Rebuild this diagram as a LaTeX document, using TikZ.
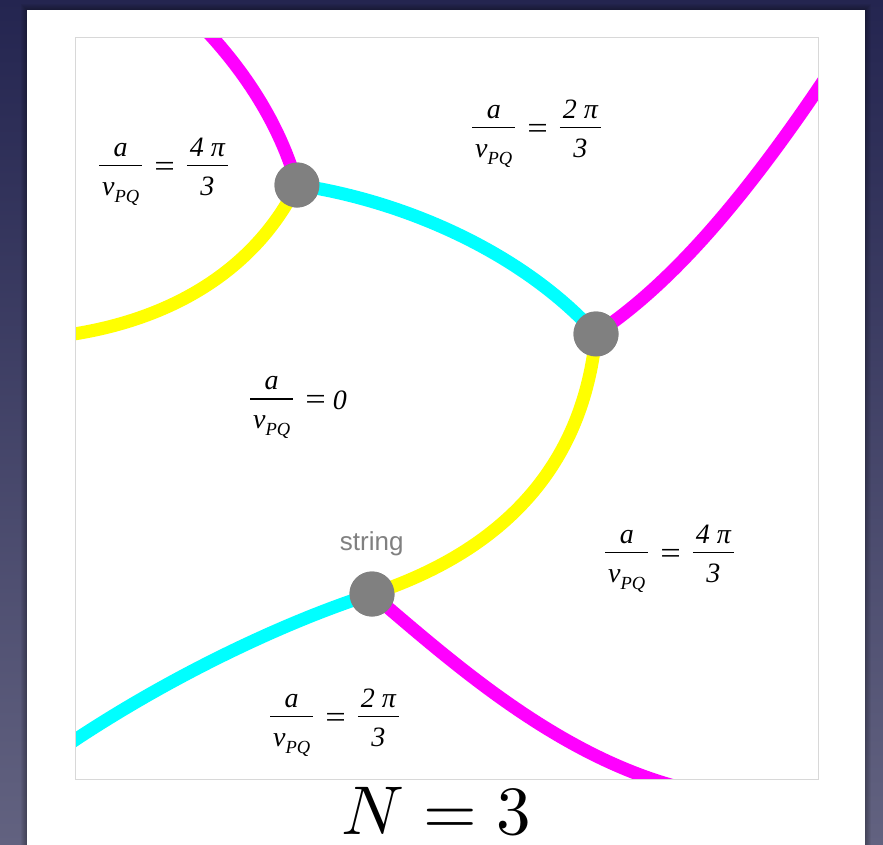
\documentclass[tikz,border=0pt]{standalone}
\usepackage{graphicx}
\usepackage[no-math]{fontspec}
\setmainfont{Liberation Serif}
\newfontfamily\lsans{Liberation Sans}
\definecolor{bgtop}{RGB}{36,37,80}
\definecolor{bgbot}{RGB}{98,98,128}
\definecolor{mag}{RGB}{255,0,255}
\definecolor{cya}{RGB}{0,255,255}
\definecolor{yel}{RGB}{255,255,0}
\definecolor{dotgray}{RGB}{128,128,128}
\definecolor{boxgray}{RGB}{216,216,216}
\newcommand\fb[2]{%
  \setbox0\hbox{#1}\setbox2\hbox{#2}%
  \dimen0=\wd0 \ifdim\wd2>\dimen0 \dimen0=\wd2 \fi
  \advance\dimen0 by 6pt
  \rlap{\raise20pt\hbox to\dimen0{\hss\box0\hss}}%
  \rlap{\lower19pt\hbox to\dimen0{\hss\box2\hss}}%
  \rlap{\raise9.6pt\hbox{\vrule width\dimen0 height1.5pt depth0pt}}%
  \hskip\dimen0\relax}
\newcommand\vpq{v\raisebox{-7pt}{\fontsize{18.5}{18}\selectfont PQ}}
\newcommand\lblfont{\fontsize{28}{30}\selectfont\itshape}
\newcommand\eqg{{\upshape\scalebox{1.3}[1.1]{=}}}
\newcommand\eqsign{\hspace{12pt}\eqg\hspace{12pt}}
\tikzset{
  curve/.style={line width=13pt},
  dot/.style={circle, fill=dotgray, minimum size=45pt, inner sep=0pt},
  lbl/.style={anchor=base west, inner sep=0pt, font=\lblfont},
}
\begin{document}
\begin{tikzpicture}[x=1pt,y=-1pt]
\useasboundingbox (0,0) rectangle (883,844);
\shade[top color=bgtop, bottom color=bgbot] (0,0) rectangle (883,844);
\foreach \k in {1,...,6}
  \fill[black, opacity=0.05] (27-\k,10-\k) rectangle (865+\k,850);
\fill[white] (27,10) rectangle (865,850);

\node[dot] (d1) at (297,185) {};
\node[dot] (d2) at (596,334) {};
\node[dot] (d3) at (372,594) {};
\coordinate (mtop) at (198,22);
\coordinate (mright) at (836,62);
\coordinate (yleft) at (60,336);
\coordinate (cleft) at (60,750);
\coordinate (mbot) at (690,790);

\begin{scope}
\clip (75,37) rectangle (818,779);
\draw[curve, mag] (d1.center) .. controls (280,125) and (245,70) .. (mtop);
\draw[curve, mag] (d2.center) .. controls (670,285) and (745,200) .. (mright);
\draw[curve, cya] (d1.center) .. controls (400,200) and (520,250) .. (d2.center);
\draw[curve, yel] (d1.center) .. controls (255,270) and (170,322) .. (yleft);
\draw[curve, yel] (d2.center) .. controls (585,450) and (520,545) .. (d3.center);
\draw[curve, cya] (d3.center) .. controls (290,620) and (170,675) .. (cleft);
\draw[curve, mag] (d3.center) .. controls (450,660) and (560,760) .. (mbot);
\end{scope}
\draw[boxgray, line width=1pt] (75,37) rectangle (818,779);

\node[dot] at (d1) {};
\node[dot] at (d2) {};
\node[dot] at (d3) {};

\node[lbl] (l1) at (99,176) {\fb{a}{\vpq}\eqsign\fb{4 π}{3}};
\node[lbl] (l2) at (472,138) {\fb{a}{\vpq}\eqsign\fb{2 π}{3}};
\node[lbl] (l3) at (250,409.5) {\fb{a}{\vpq}\hspace{12pt}\eqg\hspace{7pt}0};
\node[lbl] (l4) at (605,563) {\fb{a}{\vpq}\eqsign\fb{4 π}{3}};
\node[lbl] (l5) at (270,727) {\fb{a}{\vpq}\eqsign\fb{2 π}{3}};

\node[anchor=base, inner sep=0pt, text=dotgray, font=\lsans\fontsize{26}{30}\selectfont] (str) at (371.7,550.7) {string};
\node[anchor=base, inner sep=0pt] (title) at (436,834) {\scalebox{6.9}{$N=3$}};
\end{tikzpicture}
\end{document}
